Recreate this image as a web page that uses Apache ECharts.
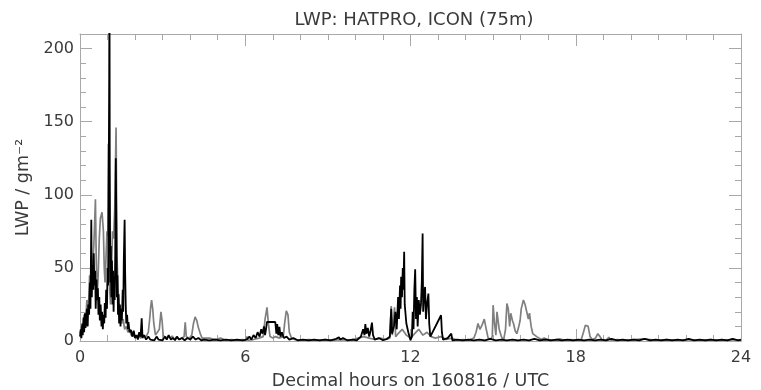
<!DOCTYPE html>
<html lang="en">
<head>
    <meta charset="UTF-8">
    <title>LWP: HATPRO, ICON (75m)</title>
    <style>
        body { margin: 0; background: #fff; }
        #chart { width: 761px; height: 390px; }
    </style>
</head>
<body>
    <div id="chart"></div>
<script src="https://cdn.jsdelivr.net/npm/echarts@6/dist/echarts.min.js"></script>
<script>
    // HATPRO (black), decimal hours / LWP in g m-2
    var hatproHours = [
        0.00, 0.03, 0.05, 0.08, 0.10, 0.13, 0.15, 0.18, 0.20, 0.23, 0.25, 0.28, 0.30, 0.33, 0.36, 0.38, 0.41, 0.43, 0.45, 0.48,
        0.50, 0.52, 0.55, 0.57, 0.60, 0.62, 0.65, 0.67, 0.70, 0.72, 0.75, 0.78, 0.80, 0.83, 0.85, 0.88, 0.90, 0.93, 0.95, 0.98,
        1.00, 1.02, 1.04, 1.06, 1.07, 1.08, 1.10, 1.12, 1.14, 1.16, 1.18, 1.20, 1.22, 1.24, 1.26, 1.28, 1.30, 1.32, 1.34, 1.36,
        1.38, 1.40, 1.42, 1.45, 1.47, 1.50, 1.52, 1.55, 1.57, 1.59, 1.62, 1.64, 1.66, 1.68, 1.71, 1.74, 1.76, 1.80, 1.85, 1.90,
        1.95, 2.00, 2.05, 2.10, 2.15, 2.20, 2.24, 2.27, 2.32, 2.40, 2.48, 2.55, 2.62, 2.70, 2.78, 2.85, 2.92, 3.00, 3.08, 3.15,
        3.22, 3.30, 3.38, 3.45, 3.52, 3.60, 3.70, 3.80, 3.90, 4.00, 4.10, 4.20, 4.30, 4.40, 4.50, 4.70, 4.90, 5.10, 5.30, 5.50,
        5.70, 5.90, 6.05, 6.15, 6.22, 6.30, 6.38, 6.45, 6.52, 6.58, 6.63, 6.68, 6.72, 6.76, 6.79, 7.09, 7.13, 7.16, 7.20, 7.24,
        7.28, 7.33, 7.40, 7.50, 7.60, 7.75, 7.90, 8.10, 8.30, 8.50, 8.70, 8.90, 9.10, 9.30, 9.40, 9.45, 9.55, 9.70, 9.90, 10.05,
        10.20, 10.28, 10.33, 10.36, 10.40, 10.45, 10.50, 10.55, 10.60, 10.64, 10.70, 10.85, 11.00, 11.15, 11.25, 11.30, 11.33, 11.40, 11.45, 11.50,
        11.55, 11.58, 11.62, 11.64, 11.66, 11.69, 11.72, 11.74, 11.77, 11.79, 11.85, 11.92, 12.00, 12.05, 12.08, 12.11, 12.14, 12.17, 12.20, 12.23,
        12.26, 12.30, 12.34, 12.38, 12.41, 12.44, 12.46, 12.49, 12.53, 12.56, 12.60, 12.65, 12.68, 12.72, 12.78, 13.11, 13.14, 13.18, 13.25, 13.35,
        13.42, 13.48, 13.52, 13.70, 13.90, 14.10, 14.30, 14.50, 14.70, 14.90, 15.10, 15.30, 15.50, 15.70, 15.90, 16.10, 16.30, 16.50, 16.70, 16.90,
        17.10, 17.30, 17.50, 17.70, 17.90, 18.10, 18.30, 18.50, 18.70, 18.90, 19.10, 19.30, 19.50, 19.70, 19.90, 20.10, 20.30, 20.50, 20.70, 20.90,
        21.10, 21.30, 21.50, 21.70, 21.90, 22.10, 22.30, 22.50, 22.70, 22.90, 23.10, 23.30, 23.50, 23.70, 23.90, 24.00
    ];
    var hatproLwp = [
        3, 8, 2, 12, 4, 16, 6, 19, 9, 14, 22, 10, 25, 18, 40, 22, 83, 30, 52, 35,
        60, 38, 48, 22, 42, 28, 36, 18, 30, 14, 25, 10, 20, 8, 18, 12, 26, 16, 35, 22,
        50, 38, 95, 180, 260, 120, 40, 65, 30, 55, 25, 48, 20, 42, 28, 60, 125, 80, 30, 45,
        18, 32, 12, 25, 10, 22, 14, 35, 20, 55, 83, 46, 25, 12, 18, 8, 13, 6, 7.5, 3,
        7, 2, 4, 1, 6, 3, 15.5, 2, 4, 1, 3, 1, 2, 0.5, 3, 1, 2, 0.5, 3, 1,
        4, 1, 2, 0.5, 3, 1, 2, 0.5, 2, 1, 3, 1, 2, 0.5, 1, 0.5, 1, 0.5, 1, 0.5,
        1, 0.5, 1, 3, 1, 4, 2, 6, 3, 8, 5, 10, 4, 9, 13, 13, 5, 11.5, 4, 9.7,
        3, 6, 2, 3, 1, 2, 0.5, 1, 0.5, 1, 0.5, 1, 0.5, 1.5, 2.5, 1, 2, 0.5, 1, 0.5,
        3, 8, 4, 11.5, 5, 9, 3, 7, 12.6, 4, 1, 2, 0.5, 1.5, 3, 22, 5, 10, 20, 8,
        30, 15, 38, 22, 44, 30, 50, 35, 61, 25, 12, 6, 0.5, 3, 20, 8, 35, 49, 15, 30,
        10, 28, 18, 25, 40, 73.5, 20, 30, 37, 15, 25, 32.5, 12, 3, 1.7, 17.6, 6, 1, 0.5, 2,
        1, 5, 0.5, 1, 0.5, 1, 0.5, 1, 0.5, 1.5, 0.5, 1, 0.5, 1, 0.5, 1, 0.5, 1.5, 0.5, 1,
        0.5, 1, 0.5, 1, 0.5, 1, 0.5, 1, 0.5, 1, 0.5, 1.5, 0.5, 1, 0.5, 1, 0.5, 1.5, 0.5, 1,
        0.5, 1, 0.5, 1, 0.5, 1.5, 0.5, 1, 0.5, 1, 0.5, 1, 0.5, 1.5, 0.5, 1
    ];

    // ICON 75m (grey)
    var iconHours = [
        0.00, 0.05, 0.10, 0.15, 0.20, 0.25, 0.30, 0.35, 0.40, 0.45, 0.50, 0.53, 0.56, 0.59, 0.62, 0.66, 0.70, 0.74, 0.80, 0.85,
        0.88, 0.91, 0.95, 0.98, 1.01, 1.03, 1.05, 1.08, 1.11, 1.14, 1.18, 1.22, 1.26, 1.31, 1.34, 1.38, 1.42, 1.47, 1.52, 1.57,
        1.62, 1.68, 1.74, 1.80, 1.86, 1.92, 2.00, 2.10, 2.20, 2.30, 2.40, 2.48, 2.53, 2.57, 2.60, 2.64, 2.68, 2.74, 2.80, 2.88,
        2.94, 2.98, 3.02, 3.10, 3.20, 3.30, 3.35, 3.42, 3.50, 3.60, 3.70, 3.78, 3.82, 3.86, 3.95, 4.05, 4.12, 4.18, 4.24, 4.30,
        4.37, 4.43, 4.50, 4.70, 4.90, 5.10, 5.30, 5.50, 5.70, 5.90, 6.00, 6.06, 6.10, 6.30, 6.50, 6.65, 6.72, 6.79, 6.84, 6.90,
        7.00, 7.10, 7.25, 7.38, 7.43, 7.49, 7.55, 7.60, 7.68, 7.80, 8.00, 8.30, 8.60, 8.90, 9.20, 9.50, 9.80, 10.10, 10.30, 10.50,
        10.70, 10.90, 11.10, 11.25, 11.30, 11.34, 11.42, 11.46, 11.55, 11.70, 11.85, 12.00, 12.15, 12.30, 12.45, 12.60, 12.75, 12.90, 13.10, 13.30,
        13.50, 13.70, 13.90, 14.10, 14.30, 14.38, 14.45, 14.52, 14.60, 14.68, 14.75, 14.82, 14.90, 14.97, 15.00, 15.05, 15.10, 15.14, 15.17, 15.22,
        15.30, 15.38, 15.45, 15.50, 15.55, 15.60, 15.64, 15.70, 15.74, 15.80, 15.86, 15.92, 15.98, 16.02, 16.10, 16.16, 16.22, 16.28, 16.32, 16.38,
        16.44, 16.50, 16.58, 16.65, 16.75, 16.85, 17.00, 17.20, 17.40, 17.60, 17.80, 18.00, 18.20, 18.28, 18.35, 18.45, 18.52, 18.60, 18.72, 18.80,
        18.88, 18.95, 19.10, 19.20, 19.28, 19.50, 19.80, 20.10, 20.50, 20.90, 21.30, 21.70, 22.10, 22.50, 22.90, 23.30, 23.70, 24.00
    ];
    var iconLwp = [
        5, 10, 8, 18, 12, 28, 20, 45, 35, 50, 65, 80, 97, 55, 30, 45, 70, 84, 88, 75,
        50, 40, 60, 75, 72, 135, 70, 35, 25, 45, 75, 70, 90, 146, 60, 35, 25, 18, 12, 15,
        8, 10, 6, 8, 4, 5, 3, 4, 2, 4, 3, 6, 15, 24, 28, 22, 12, 4, 3, 8,
        20, 14, 4, 2, 3, 2, 3.5, 1, 2.6, 1, 2, 3, 12.8, 3, 2, 3, 12, 16.5, 14, 9,
        5, 2, 1, 2, 1, 2, 0.5, 1, 0.5, 1, 0.5, 3, 0.5, 1, 2, 3, 15, 23, 12, 3,
        2, 3, 2, 3, 12, 20.6, 18, 6, 2, 1, 0.5, 1, 0.5, 1, 0.5, 1, 0.5, 2, 3, 2,
        1, 2, 1, 2, 24, 4, 23, 3, 5, 8, 4, 2, 5, 8, 4, 6, 3, 2, 3, 1,
        2, 0.5, 1, 0.5, 2, 6, 12, 8, 11, 15, 8, 2, 1, 3, 24.5, 12, 4, 20, 21, 8,
        3, 0.5, 8, 25.6, 22, 10, 19, 14, 12, 7, 5, 9, 14, 22, 28, 25, 20, 15, 19, 10,
        5, 6, 3, 4, 1, 2, 1, 0.5, 1.5, 0.5, 1, 0.5, 1, 6, 10.8, 10, 3, 1, 2, 5,
        3, 1, 0.5, 2.5, 0.5, 1, 0.5, 1, 1.5, 0.5, 1, 0.5, 1, 0.5, 1, 0.5, 1, 0.5
    ];

    var xTicks = [0, 6, 12, 18, 24];
    var yTicks = [0, 50, 100, 150, 200];

    function zip(xs, ys) {
        return xs.map(function (x, i) { return [x, ys[i]]; });
    }

    var axisGrey = '#a8a8a8';
    var textGrey = '#3a3a3a';
    var font = 'DejaVu Sans';

    function xAxisOpt(pos) {
        return {
            type: 'value',
            position: pos,
            min: xTicks[0],
            max: xTicks[xTicks.length - 1],
            interval: 6,
            axisLine: { show: true, onZero: false, lineStyle: { color: axisGrey, width: 1 } },
            axisTick: { show: true, inside: true, length: 12, lineStyle: { color: axisGrey } },
            minorTick: { show: true, splitNumber: 6, length: 6, lineStyle: { color: axisGrey } },
            splitLine: { show: false },
            axisLabel: {
                show: pos === 'bottom',
                margin: 9,
                color: textGrey,
                fontFamily: font,
                fontSize: 16
            },
            name: pos === 'bottom' ? 'Decimal hours on 160816 / UTC' : '',
            nameLocation: 'middle',
            nameGap: 31,
            nameTextStyle: { color: textGrey, fontFamily: font, fontSize: 17.5 }
        };
    }

    function yAxisOpt(pos) {
        return {
            type: 'value',
            position: pos,
            min: 0,
            max: 210,
            interval: 50,
            axisLine: { show: true, onZero: false, lineStyle: { color: axisGrey, width: 1 } },
            axisTick: { show: true, inside: true, length: 12, lineStyle: { color: axisGrey } },
            minorTick: { show: true, splitNumber: 5, length: 6, lineStyle: { color: axisGrey } },
            splitLine: { show: false },
            axisLabel: {
                show: pos === 'left',
                margin: 6,
                color: textGrey,
                fontFamily: font,
                fontSize: 16,
                formatter: function (v) { return yTicks.indexOf(v) >= 0 ? String(v) : ''; }
            },
            name: pos === 'left' ? 'LWP / gm\u207B\u00B2' : '',
            nameLocation: 'middle',
            nameGap: 45,
            nameRotate: 90,
            nameTextStyle: { color: textGrey, fontFamily: font, fontSize: 17.5 }
        };
    }

    var chart = echarts.init(document.getElementById('chart'), null, { renderer: 'canvas' });

    var option = {
        animation: false,
        backgroundColor: '#fff',
        title: {
            text: 'LWP: HATPRO, ICON (75m)',
            left: 409,
            top: 6,
            textAlign: 'center',
            textStyle: { color: textGrey, fontFamily: font, fontSize: 18, fontWeight: 'normal' }
        },
        grid: { left: 80, right: 20, top: 34, bottom: 49, containLabel: false, outerBoundsMode: 'none' },
        xAxis: [xAxisOpt('bottom'), xAxisOpt('top')],
        yAxis: [yAxisOpt('left'), yAxisOpt('right')],
        series: [
            {
                name: 'ICON',
                type: 'line',
                data: zip(iconHours, iconLwp),
                showSymbol: false,
                lineStyle: { color: '#7f7f7f', width: 1.7 },
                clip: true
            },
            {
                name: 'HATPRO',
                type: 'line',
                data: zip(hatproHours, hatproLwp),
                showSymbol: false,
                lineStyle: { color: '#000', width: 1.8 },
                clip: true
            }
        ]
    };

    chart.setOption(option);
</script>
</body>
</html>
